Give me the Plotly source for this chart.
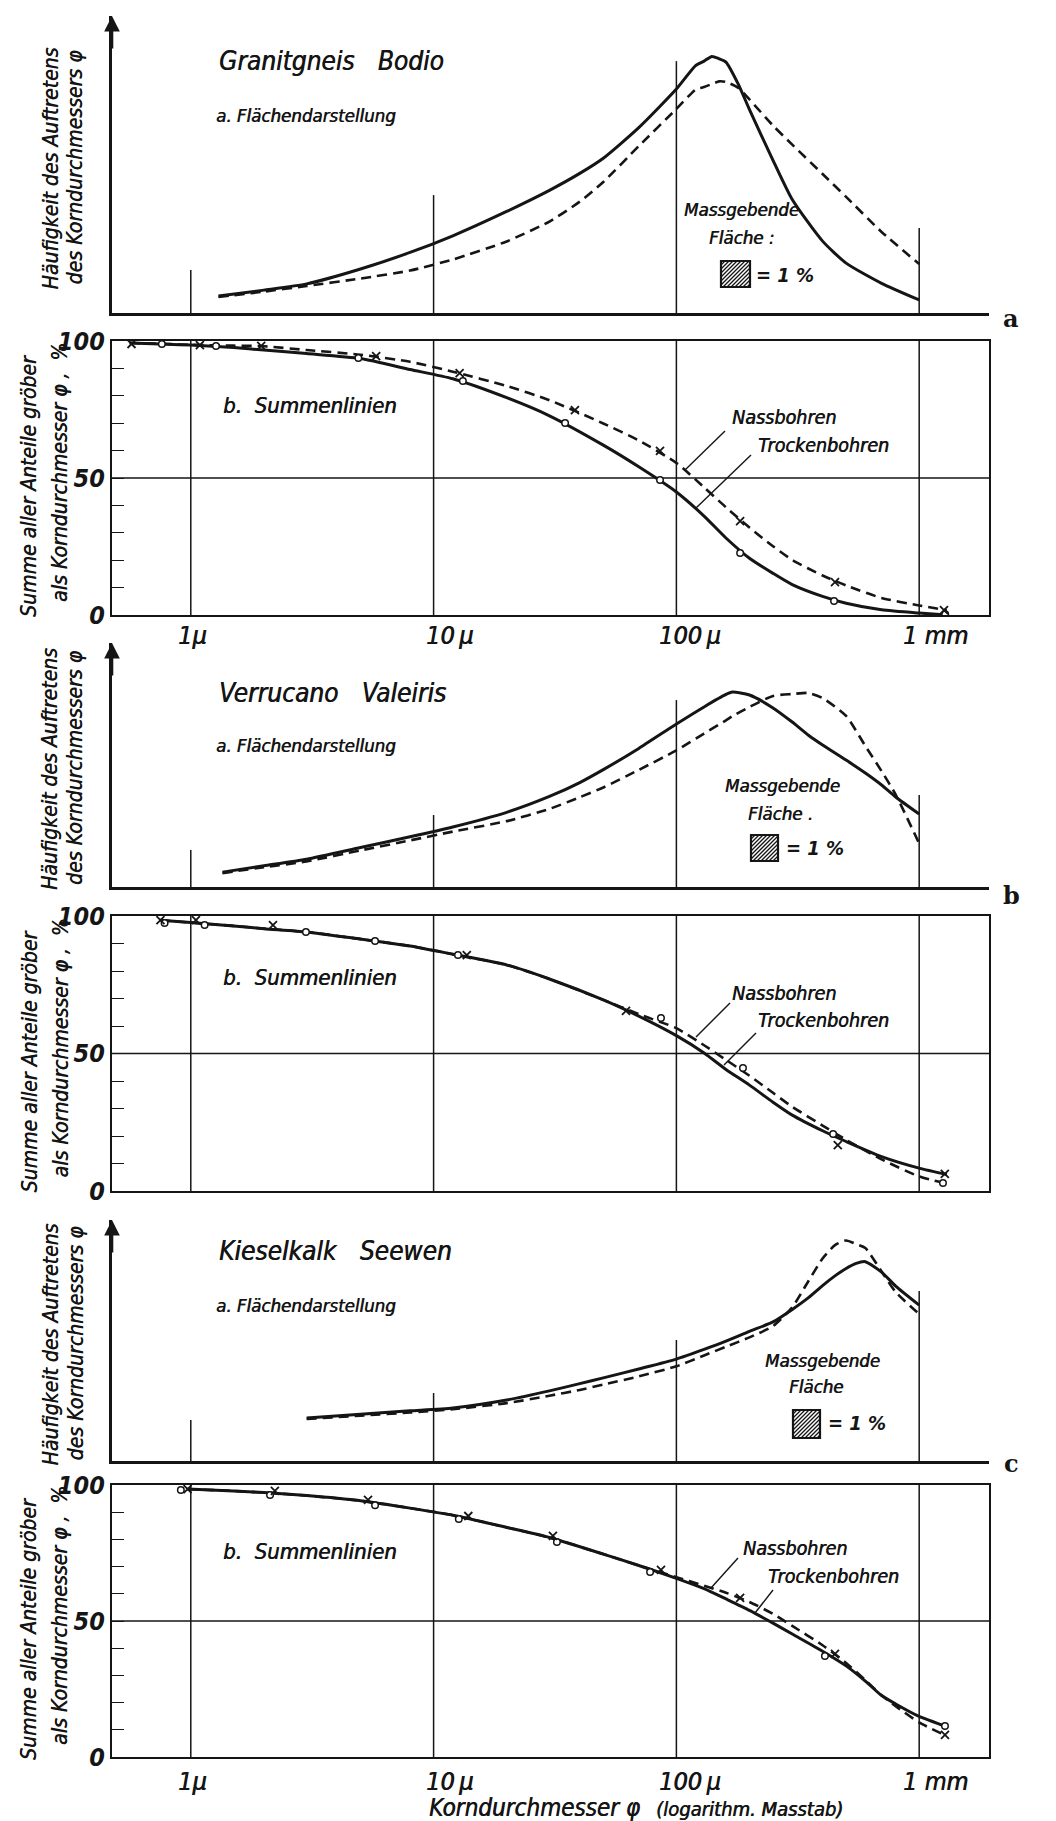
import math
import plotly.graph_objects as go

INK = "#151515"
HAND = "'Liberation Sans Narrow', 'DejaVu Sans Condensed', 'DejaVu Sans', sans-serif"
SERIF = "'DejaVu Serif', 'Liberation Serif', serif"
HEAVY = "0.6px 0px 0px #151515"

W, H = 1056, 1821

# ---------------- data ----------------
# Panel 1 : Granitgneis Bodio
d_1a = [1.3, 2, 3, 5, 8, 12, 20, 30, 40, 50, 70, 100, 120, 130, 140, 150, 160, 180, 200, 250, 300, 400, 500, 700, 1000]
trocken_1a = [5.7, 7.7, 9.8, 14.8, 20.4, 26.0, 34.2, 41.3, 47.0, 52.1, 62.4, 75.4, 83.3, 84.8, 86.4, 85.6, 84.5, 77.0, 68.5, 51.4, 38.2, 24.2, 16.8, 10.0, 4.4]
nass_1a = [5.4, 7.2, 9.1, 11.6, 14.3, 18.0, 24.1, 30.8, 37.5, 44.1, 56.2, 68.7, 75.2, 76.1, 77.1, 78.0, 77.8, 75.8, 71.9, 63.1, 56.7, 46.8, 39.1, 27.3, 16.5]

d_1b = [0.56, 0.8, 1, 1.5, 2, 3, 5, 8, 12, 20, 30, 50, 70, 100, 130, 160, 200, 250, 300, 400, 500, 700, 1000, 1300]
trocken_1b = [99.3, 98.8, 98.5, 97.6, 96.7, 95.4, 93.6, 89.6, 86.2, 79.3, 72.7, 62.0, 54.1, 44.9, 36.1, 28.1, 20.7, 15.2, 11.1, 6.8, 4.3, 1.9, 0.7, 0.0]
nass_1b = [99.3, 98.9, 98.6, 98.3, 98.1, 96.7, 95.0, 92.4, 88.8, 83.6, 78.4, 69.9, 63.7, 55.5, 46.6, 39.3, 31.9, 25.1, 20.1, 14.4, 10.8, 6.2, 3.5, 1.7]
o_d_1b = [0.76, 1.27, 4.9, 13.2, 34.8, 85.6, 183, 446, 1280]
o_p_1b = [98.9, 98.2, 93.8, 85.4, 70.1, 49.3, 22.6, 5.1, 0.3]
x_d_1b = [0.57, 1.09, 1.95, 5.8, 12.8, 38.2, 85.6, 183, 450, 1265]
x_p_1b = [98.9, 98.5, 98.2, 94.5, 88.3, 74.8, 59.9, 34.3, 12.0, 1.8]

# Panel 2 : Verrucano Valeiris
d_2a = [1.35, 2, 3, 5, 8, 12, 20, 30, 40, 50, 70, 100, 130, 160, 170, 200, 250, 300, 350, 400, 500, 600, 700, 800, 1000]
trocken_2a = [6.1, 8.7, 11.4, 16.2, 20.6, 24.6, 30.6, 37.1, 42.8, 48.1, 56.8, 66.8, 73.8, 78.9, 79.9, 78.7, 73.4, 67.6, 62.2, 58.2, 52.0, 46.7, 41.8, 36.9, 29.9]
nass_2a = [5.7, 8.1, 10.5, 15.0, 19.1, 22.7, 27.0, 32.0, 36.8, 40.8, 48.0, 56.0, 62.9, 68.3, 70.0, 73.8, 78.3, 79.1, 79.5, 77.4, 70.1, 57.8, 47.5, 37.9, 17.8]

d_2b = [0.75, 1, 1.5, 2, 3, 5, 8, 12, 20, 30, 50, 70, 100, 130, 160, 200, 250, 300, 400, 500, 700, 1000, 1300]
trocken_2b = [98.5, 97.6, 96.4, 95.4, 94.2, 91.6, 89.1, 86.1, 82.2, 77.1, 69.5, 63.6, 56.5, 50.2, 44.2, 38.5, 32.3, 27.6, 21.9, 18.0, 12.5, 8.3, 6.0]
nass_2b = [98.5, 97.6, 96.4, 95.4, 94.2, 91.6, 89.1, 86.1, 82.2, 77.1, 69.5, 64.3, 59.2, 53.0, 47.7, 41.9, 35.7, 30.6, 23.8, 18.6, 11.5, 5.3, 2.7]
x_d_2b = [0.75, 1.05, 2.18, 13.7, 62, 462, 1275]
x_p_2b = [98.5, 98.5, 96.7, 85.8, 65.5, 16.7, 6.2]
o_d_2b = [0.78, 1.14, 2.98, 5.74, 12.6, 86.4, 188, 442, 1253]
o_p_2b = [97.5, 96.7, 94.2, 90.9, 85.8, 62.9, 44.7, 20.7, 2.9]

# Panel 3 : Kieselkalk Seewen
d_3a = [3, 5, 8, 12, 20, 30, 40, 50, 70, 100, 130, 160, 200, 250, 300, 350, 400, 450, 500, 550, 600, 700, 800, 1000]
trocken_3a = [17.8, 19.4, 20.8, 22.0, 25.3, 29.1, 32.1, 34.5, 38.2, 42.3, 46.3, 49.7, 53.8, 57.7, 62.9, 67.8, 72.8, 76.8, 79.9, 82.0, 82.7, 78.4, 72.6, 64.7]
nass_3a = [17.4, 18.8, 20.1, 21.5, 24.0, 27.1, 29.5, 31.7, 35.1, 39.3, 43.8, 47.4, 51.3, 56.0, 63.8, 74.7, 84.0, 89.6, 91.5, 90.0, 88.4, 78.6, 70.1, 61.0]

d_3b = [0.97, 1.5, 2, 3, 5, 8, 12, 20, 30, 50, 70, 100, 130, 160, 200, 250, 300, 400, 500, 600, 700, 800, 1000, 1300]
trocken_3b = [98.5, 97.8, 97.2, 96.1, 94.2, 91.5, 88.9, 84.4, 80.7, 74.6, 70.4, 65.7, 61.9, 58.1, 53.9, 49.2, 45.2, 38.9, 33.5, 27.9, 22.6, 19.5, 14.9, 11.1]
nass_3b = [98.5, 97.8, 97.2, 96.1, 94.2, 91.5, 88.9, 84.4, 80.7, 74.6, 70.4, 66.1, 63.0, 60.4, 57.0, 52.6, 48.2, 41.1, 34.6, 28.3, 22.7, 18.7, 12.7, 7.7]
o_d_3b = [0.91, 2.12, 5.74, 12.7, 32.2, 77.9, 409, 1277]
o_p_3b = [98.2, 96.3, 92.6, 87.5, 79.0, 68.0, 37.1, 11.4]
x_d_3b = [0.97, 2.22, 5.37, 13.9, 31.0, 86.4, 183, 450, 1277]
x_p_3b = [98.5, 97.8, 94.5, 88.6, 81.3, 68.8, 58.5, 37.9, 8.1]

grid_d = [1, 10, 100, 1000]
grid_top_1a = [14.5, 39.7, 84.8, 28.6]
grid_top_2a = [15.2, 29.5, 76.6, 37.7]
grid_top_3a = [17.0, 28.2, 50.2, 70.5]

tick_text = ["1\u03bc", "10\u2009\u03bc", "100\u2009\u03bc", "1 mm"]

titles = ["Granitgneis\u2002\u2002Bodio", "Verrucano\u2002\u2002Valeiris", "Kieselkalk\u2002\u2002Seewen"]

# ---------------- layout helpers ----------------
def px(x):
    return x / W

def py(y):
    return 1 - y / H

X_RANGE = [-0.3245, 3.2875]
XL, XR = 104, 981
A_BOX = [(8, 305), (635, 879), (1212, 1453)]
B_BOX = [(333, 607), (908, 1183), (1477, 1749)]


def font(size, family=HAND, bold=False, italic=True, heavy=False):
    f = dict(family=family, size=size, color=INK,
             style="italic" if italic else "normal",
             weight="bold" if bold else "normal")
    if heavy:
        f["shadow"] = HEAVY
    return f


def T(text, x, y, size, xanchor="left", angle=0, bold=False, family=HAND, italic=True,
      heavy=False):
    return dict(text=text, x=px(x), y=py(y), xref="paper", yref="paper",
                xanchor=xanchor, yanchor="middle", showarrow=False,
                textangle=angle, font=font(size, family, bold, italic, heavy))


fig = go.Figure()
layout = dict(width=W, height=H, margin=dict(l=0, r=0, t=0, b=0),
              paper_bgcolor="white", plot_bgcolor="white", showlegend=False,
              template="none")
shapes = []
annotations = []

SOLID = dict(color=INK, width=3, shape="spline", smoothing=0.6)
DASH = dict(color=INK, width=2.6, dash="10px,6px", shape="spline", smoothing=0.6)

a_data = [(d_1a, trocken_1a, nass_1a, grid_top_1a),
          (d_2a, trocken_2a, nass_2a, grid_top_2a),
          (d_3a, trocken_3a, nass_3a, grid_top_3a)]
b_data = [(d_1b, trocken_1b, nass_1b, (o_d_1b, o_p_1b), (x_d_1b, x_p_1b)),
          (d_2b, trocken_2b, nass_2b, (o_d_2b, o_p_2b), (x_d_2b, x_p_2b)),
          (d_3b, trocken_3b, nass_3b, (o_d_3b, o_p_3b), (x_d_3b, x_p_3b))]

for p in range(3):
    ia, ib = 2 * p + 1, 2 * p + 2
    xa, ya = ("x" if ia == 1 else f"x{ia}"), ("y" if ia == 1 else f"y{ia}")
    xb, yb = f"x{ib}", f"y{ib}"
    ta, ba = A_BOX[p]
    tb, bb = B_BOX[p]
    # --- frequency panel axes
    layout["xaxis" if ia == 1 else f"xaxis{ia}"] = dict(
        type="log", range=X_RANGE, domain=[px(XL), px(XR)], anchor=ya,
        showgrid=False, zeroline=False, showticklabels=False, ticks="",
        showline=True, linecolor=INK, linewidth=2.6, fixedrange=True)
    layout["yaxis" if ia == 1 else f"yaxis{ia}"] = dict(
        range=[0, 100], domain=[py(ba), py(ta)], anchor=xa,
        showgrid=False, zeroline=False, showticklabels=False, ticks="",
        showline=True, linecolor=INK, linewidth=2.6, fixedrange=True)
    # --- cumulative panel axes
    layout[f"xaxis{ib}"] = dict(
        type="log", range=X_RANGE, domain=[px(XL), px(XR)], anchor=yb,
        showgrid=False, zeroline=False, showticklabels=False, ticks="",
        showline=True, mirror=True, linecolor=INK, linewidth=2.2, fixedrange=True)
    layout[f"yaxis{ib}"] = dict(
        range=[0, 100], domain=[py(bb), py(tb)], anchor=xb,
        showgrid=False, zeroline=False, showline=True, mirror=True,
        linecolor=INK, linewidth=2.4, ticks="inside", ticklen=12, tickwidth=1.4,
        tickcolor=INK, tickvals=list(range(0, 101, 10)),
        ticktext=["0", "", "", "", "", "50", "", "", "", "", "100"],
        tickfont=font(25, bold=True), fixedrange=True)

    d, tr, na, gtop = a_data[p]
    fig.add_trace(go.Scatter(x=d, y=tr, mode="lines", line=SOLID, xaxis=xa, yaxis=ya,
                             name="Trockenbohren"))
    fig.add_trace(go.Scatter(x=d, y=na, mode="lines", line=DASH, xaxis=xa, yaxis=ya,
                             name="Nassbohren"))
    for g, top in zip(grid_d, gtop):
        shapes.append(dict(type="line", xref=xa, yref=ya, x0=g, x1=g, y0=0, y1=top,
                           line=dict(color=INK, width=1.5), layer="below"))

    d, tr, na, om, xm = b_data[p]
    fig.add_trace(go.Scatter(x=d, y=tr, mode="lines", line=SOLID, xaxis=xb, yaxis=yb,
                             name="Trockenbohren"))
    fig.add_trace(go.Scatter(x=d, y=na, mode="lines", line=DASH, xaxis=xb, yaxis=yb,
                             name="Nassbohren"))
    fig.add_trace(go.Scatter(x=om[0], y=om[1], mode="markers", xaxis=xb, yaxis=yb,
                             marker=dict(symbol="circle", size=6.5, color="white",
                                         line=dict(color=INK, width=1.5))))
    fig.add_trace(go.Scatter(x=xm[0], y=xm[1], mode="markers", xaxis=xb, yaxis=yb,
                             marker=dict(symbol="x-thin", size=8, color=INK,
                                         line=dict(color=INK, width=1.8))))
    for g in grid_d:
        shapes.append(dict(type="line", xref=xb, yref=yb, x0=g, x1=g, y0=0, y1=100,
                           line=dict(color=INK, width=1.5), layer="below"))
    shapes.append(dict(type="line", xref="paper", yref=yb, x0=px(XL), x1=px(XR), y0=50, y1=50,
                       line=dict(color=INK, width=1.3), layer="below"))

    # arrow on the frequency axis
    annotations.append(dict(x=px(XL), y=py(ta), xref="paper", yref="paper", text="",
                            showarrow=True, ax=0, ay=34, arrowhead=2, arrowsize=1.2,
                            arrowwidth=2.6, arrowcolor=INK))

# ---------------- texts ----------------
for (ta, ba) in A_BOX:
    c = (ta + ba) / 2 + 4
    annotations.append(T("Häufigkeit des Auftretens", 42, c, 21, "center", -90, heavy=True))
    annotations.append(T("des Korndurchmessers \u03c6", 67, c - 1, 21, "center", -90, heavy=True))
for (tb, bb) in B_BOX:
    annotations.append(T("Summe aller Anteile gröber", 21, (tb + bb) / 2 + 8, 21, "center", -90,
                         heavy=True))
    annotations.append(T("als Korndurchmesser \u03c6 ,  %", 52, (tb + bb) / 2 - 5, 21, "center", -90,
                         heavy=True))

title_y = [(53, 108), (685, 738), (1243, 1297)]
for t, (y1, y2) in zip(titles, title_y):
    annotations.append(T(t, 209, y1, 26, heavy=True))
    annotations.append(T("a. Flächendarstellung", 206, y2, 18.5, heavy=True))

for y in [397, 970, 1543]:
    annotations.append(T("b.  Summenlinien", 213, y, 22, heavy=True))

# Massgebende Fläche blocks
mass = [((733, 202), (733, 230), "Fläche :", (713, 253, 29, 26), (746, 267)),
        ((774, 777), (772, 805), "Fläche .", (743, 827, 27, 26), (776, 840)),
        ((814, 1352), (808, 1378), "Fläche", (785, 1402, 27, 28), (818, 1415))]
for (m, f, ftxt, sq, eq) in mass:
    annotations.append(T("Massgebende", m[0], m[1], 18.5, "center", heavy=True))
    annotations.append(T(ftxt, f[0], f[1], 18.5, "center", heavy=True))
    annotations.append(T("= 1 %", eq[0], eq[1], 20, "left", bold=True))
    x0, y0, w, h = sq
    shapes.append(dict(type="rect", xref="paper", yref="paper", x0=px(x0), x1=px(x0 + w),
                       y0=py(y0 + h), y1=py(y0), line=dict(color=INK, width=2.2),
                       fillcolor="white"))
    path = ""
    c = 4
    while c < w + h:
        xs = x0 + max(0, c - h)
        xe = x0 + min(w, c)
        ys = y0 + c - (xs - x0)
        ye = y0 + c - (xe - x0)
        path += f"M{px(xs):.5f},{py(ys):.5f}L{px(xe):.5f},{py(ye):.5f}"
        c += 4
    shapes.append(dict(type="path", xref="paper", yref="paper", path=path,
                       line=dict(color=INK, width=1.3)))

# Nassbohren / Trockenbohren labels and leaders
legend_pos = [((722, 410), (748, 437), ((717, 423), (677, 462)), ((743, 447), (688, 500))),
              ((722, 985), (748, 1012), ((722, 995), (688, 1029)), ((748, 1025), (716, 1057))),
              ((733, 1540), (758, 1568), ((730, 1550), (703, 1580)), ((765, 1582), (747, 1605)))]
for (n, t, ln, lt) in legend_pos:
    annotations.append(T("Nassbohren", n[0], n[1], 19.5, heavy=True))
    annotations.append(T("Trockenbohren", t[0], t[1], 19.5, heavy=True))
    for (p0, p1) in (ln, lt):
        shapes.append(dict(type="line", xref="paper", yref="paper",
                           x0=px(p0[0]), y0=py(p0[1]), x1=px(p1[0]), y1=py(p1[1]),
                           line=dict(color=INK, width=1.4)))

for letter, y in zip(["a", "b", "c"], [310, 887, 1455]):
    annotations.append(T(letter, 1003, y, 24, "center", family=SERIF, italic=False, bold=True))

tick_shift = [2, 16, 14, 16]
for yl, xr in [(627, "x2"), (1773, "x6")]:
    for g, txt, sh in zip(grid_d, tick_text, tick_shift):
        annotations.append(dict(text=txt, x=math.log10(g), y=py(yl), xref=xr, yref="paper",
                                xanchor="center", yanchor="middle", xshift=sh,
                                showarrow=False, font=font(25, heavy=True)))

annotations.append(T("Korndurchmesser \u03c6", 634, 1800, 24, "right", heavy=True))
annotations.append(T("(logarithm. Masstab)", 646, 1801, 20, "left", heavy=True))

layout["shapes"] = shapes
layout["annotations"] = annotations
fig.update_layout(**layout)
fig.write_html("out.html")
